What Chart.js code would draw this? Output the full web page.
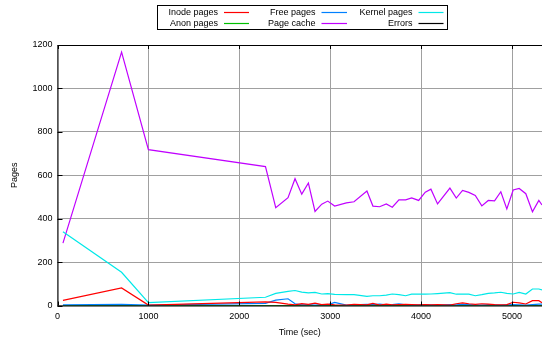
<!DOCTYPE html>
<html>
<head>
<meta charset="utf-8">
<script src="https://cdn.jsdelivr.net/npm/chart.js@4.4.0/dist/chart.umd.min.js"></script>
<style>
  html, body { margin: 0; padding: 0; background: #fff; }
  #wrap { width: 542px; height: 342px; position: relative; }
</style>
</head>
<body>
<div id="wrap"><canvas id="c" width="542" height="342"></canvas></div>
<script>
// Sample times (seconds)
const times = [60, 705, 1000, 2288, 2401, 2536, 2613, 2687, 2760, 2833, 2907, 2973, 3049, 3178,
  3262, 3404, 3470, 3544, 3617, 3683, 3756, 3830, 3896, 3973, 4046, 4108, 4181, 4317, 4387,
  4456, 4525, 4596, 4668, 4739, 4808, 4877, 4943, 5013, 5079, 5152, 5225, 5295, 5330];

// Page counts per sample
const inodePages = [24, 81, 2, 17, 14, 6, 3, 9, 5, 11, 4, 6, 3, 2,
  5, 3, 10, 2, 6, 3, 4, 5, 4, 3, 4, 3, 4, 2, 8,
  12, 8, 5, 8, 6, 4, 3, 4, 15, 12, 7, 22, 22, 13];
const freePages = [3, 5, 2, 10, 25, 31, 8, 3, 4, 2, 4, 3, 14, 2,
  3, 5, 4, 6, 3, 4, 8, 3, 2, 3, 4, 3, 2, 4, 3,
  5, 4, 3, 2, 4, 3, 2, 3, 4, 3, 2, 4, 6, 6];
const kernelPages = [340, 153, 13, 38, 56, 65, 69, 62, 58, 60, 53, 55, 51, 50,
  50, 42, 45, 45, 48, 53, 50, 45, 52, 52, 52, 53, 55, 59, 52,
  52, 52, 45, 50, 56, 58, 61, 56, 53, 60, 53, 76, 76, 72];
const anonPages = [0, 0, 0, 0, 0, 0, 0, 0, 0, 0, 0, 0, 0, 0,
  0, 0, 0, 0, 0, 0, 0, 0, 0, 0, 0, 0, 0, 0, 0,
  0, 0, 0, 0, 0, 0, 0, 0, 0, 0, 0, 0, 0, 0];
const pageCache = [287, 1167, 718, 640, 451, 497, 584, 513, 564, 433, 467, 481, 458, 473,
  478, 527, 458, 455, 468, 453, 487, 487, 496, 484, 522, 536, 468, 541, 495,
  530, 521, 507, 459, 484, 482, 524, 445, 532, 539, 515, 432, 484, 463];
const errors = [0, 0, 0, 0, 0, 0, 0, 0, 0, 0, 0, 0, 0, 0,
  0, 0, 0, 0, 0, 0, 0, 0, 0, 0, 0, 0, 0, 0, 0,
  0, 0, 0, 0, 0, 0, 0, 0, 0, 0, 0, 0, 0, 0];

const xTicks = [0, 1000, 2000, 3000, 4000, 5000];
const yTicks = [0, 200, 400, 600, 800, 1000, 1200];

const FONT = 'Liberation Sans, Arial, sans-serif';
const series = [
  { label: 'Inode pages', values: inodePages, color: '#ff0000' },
  { label: 'Free pages', values: freePages, color: '#0080ff' },
  { label: 'Kernel pages', values: kernelPages, color: '#00e8e8' },
  { label: 'Anon pages', values: anonPages, color: '#00c000' },
  { label: 'Page cache', values: pageCache, color: '#c000ff' },
  { label: 'Errors', values: errors, color: '#000000' }
];

const datasets = series.map(s => ({
  label: s.label,
  data: times.map((t, i) => ({ x: t, y: s.values[i] })),
  borderColor: s.color,
  backgroundColor: s.color,
  borderWidth: 1.2,
  pointRadius: 0,
  tension: 0,
  fill: false
}));

// Frame, inward tick marks and the boxed key (three entries per row)
const framePlugin = {
  id: 'frame',
  afterDraw(chart) {
    const { ctx, chartArea: a, scales: { x, y } } = chart;
    ctx.save();
    ctx.strokeStyle = '#000';
    ctx.lineWidth = 1;
    ctx.beginPath();
    ctx.moveTo(a.left + 0.5, a.bottom + 0.5);
    ctx.lineTo(a.left + 0.5, a.top + 0.5);
    ctx.lineTo(a.right + 0.5, a.top + 0.5);
    ctx.stroke();
    ctx.beginPath();
    ctx.moveTo(a.left, a.bottom + 0.5);
    ctx.lineTo(a.right, a.bottom + 0.5);
    ctx.stroke();
    xTicks.forEach(v => {
      const px = Math.round(x.getPixelForValue(v)) + 0.5;
      ctx.beginPath();
      ctx.moveTo(px, a.bottom); ctx.lineTo(px, a.bottom - 4);
      ctx.moveTo(px, a.top); ctx.lineTo(px, a.top + 4);
      ctx.stroke();
    });
    yTicks.forEach(v => {
      const py = Math.round(y.getPixelForValue(v)) + 0.5;
      ctx.beginPath();
      ctx.moveTo(a.left, py); ctx.lineTo(a.left + 5, py);
      ctx.stroke();
    });

    // key
    const box = { l: 157.5, t: 5.5, r: 447.5, b: 29.5 };
    ctx.strokeRect(box.l, box.t, box.r - box.l, box.b - box.t);
    const cols = [{ textEnd: 218, l0: 224, l1: 249 }, { textEnd: 315.5, l0: 321.5, l1: 347 }, { textEnd: 412.5, l0: 418.5, l1: 443.5 }];
    const rows = [12.5, 23.5];
    ctx.font = '9px ' + FONT;
    ctx.textAlign = 'right';
    ctx.textBaseline = 'middle';
    series.forEach((s, i) => {
      const c = cols[i % 3];
      const r = rows[Math.floor(i / 3)];
      ctx.fillStyle = '#000';
      ctx.fillText(s.label, c.textEnd, r);
      ctx.strokeStyle = s.color;
      ctx.lineWidth = 1.2;
      ctx.beginPath();
      ctx.moveTo(c.l0, r); ctx.lineTo(c.l1, r);
      ctx.stroke();
    });
    ctx.restore();
  }
};

new Chart(document.getElementById('c'), {
  type: 'line',
  data: { datasets },
  options: {
    responsive: false,
    animation: false,
    events: [],
    layout: { padding: { top: 45, right: 0, bottom: 0, left: 0 } },
    plugins: { legend: { display: false }, tooltip: { enabled: false } },
    scales: {
      x: {
        type: 'linear',
        min: 0,
        max: 5330,
        afterBuildTicks: s => { s.ticks = xTicks.map(v => ({ value: v })); },
        afterFit: s => { s.height = 36.5; },
        grid: { color: '#a0a0a0', lineWidth: 1, drawTicks: false },
        border: { display: false },
        ticks: { font: { family: FONT, size: 9 }, color: '#000', padding: 6, maxRotation: 0, callback: v => String(v) },
        title: { display: true, text: 'Time (sec)', font: { family: FONT, size: 9 }, color: '#000', padding: { top: 0, bottom: 4 } }
      },
      y: {
        min: 0,
        max: 1200,
        afterBuildTicks: s => { s.ticks = yTicks.map(v => ({ value: v })); },
        afterFit: s => { s.width = 57.5; },
        grid: { color: '#a0a0a0', lineWidth: 1, drawTicks: false },
        border: { display: false },
        ticks: { font: { family: FONT, size: 9 }, color: '#000', padding: 5, callback: v => String(v) },
        title: { display: true, text: 'Pages', font: { family: FONT, size: 9 }, color: '#000', padding: { top: 9, bottom: 0 } }
      }
    }
  },
  plugins: [framePlugin]
});
</script>
</body>
</html>
